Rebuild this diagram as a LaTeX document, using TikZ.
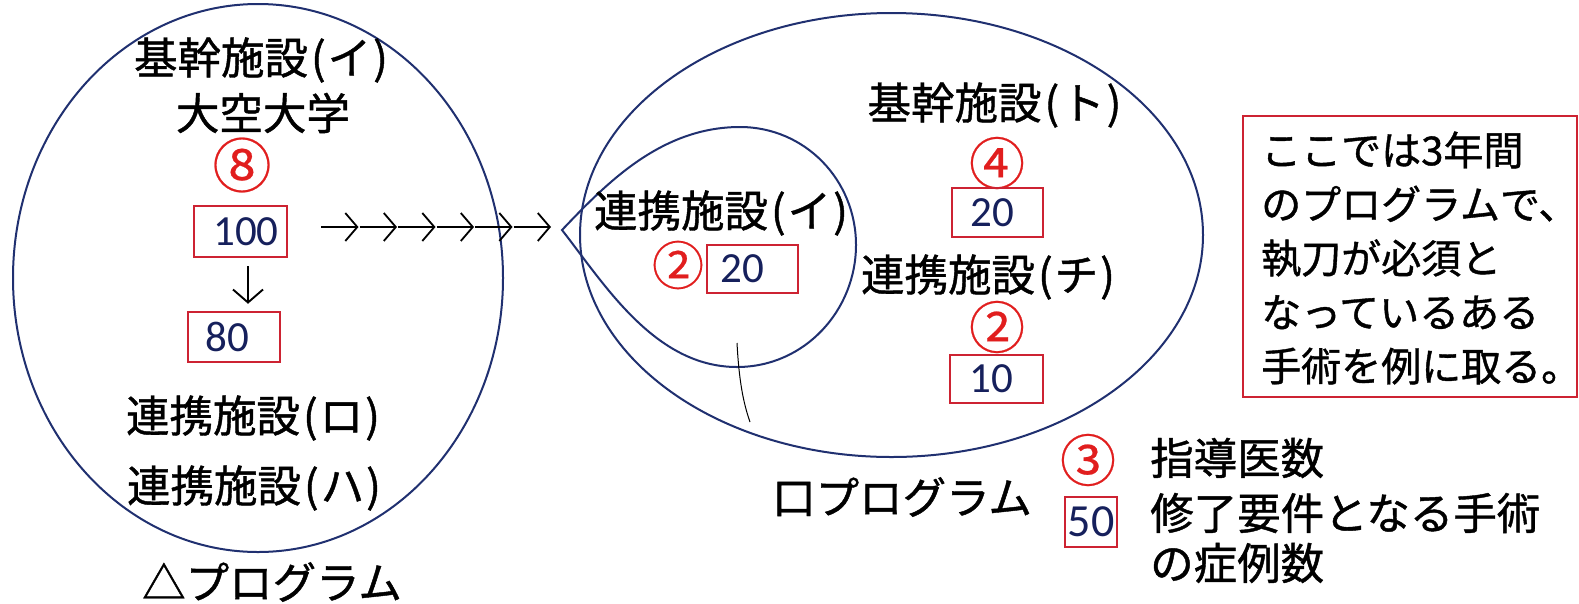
\documentclass[tikz,border=0pt]{standalone}
\usepackage{fontspec}
\setmainfont{Noto Sans CJK JP}[FakeBold=1]
\newfontfamily\numfont{Carlito}
\newfontfamily\circfont{Noto Sans CJK JP}[FakeBold=0.4]
\usetikzlibrary{arrows.meta}
\definecolor{lblue}{RGB}{32,48,112}
\definecolor{bred}{RGB}{205,35,50}
\definecolor{cred}{RGB}{225,30,30}
\definecolor{navy}{RGB}{22,32,92}
\begin{document}
\begin{tikzpicture}[x=1pt,y=-1pt,
  lbl/.style={inner sep=0pt, font=\fontsize{43.5}{50}\selectfont},
  circ/.style={inner sep=0pt, text=cred, font=\circfont\fontsize{56}{56}\selectfont},
  numbox/.style={draw=bred, line width=2.5pt, inner sep=0pt, text=navy,
    font=\numfont\fontsize{43}{50}\selectfont, minimum width=93pt, minimum height=50pt},
  ring/.style={draw=lblue, line width=2pt},
  arr/.style={line width=1.9pt, -{Straight Barb[length=13pt,width=30pt,line width=1.9pt]}},
  rowarr/.style={line width=1.8pt, -{Straight Barb[length=12pt,width=28pt,line width=1.8pt]}},
]
\useasboundingbox (0,0) rectangle (1579,603);
\fill[white] (0,0) rectangle (1579,603);

% left program
\draw[ring] (258,278) ellipse [x radius=245, y radius=274];
\node[lbl] (kikanI) at (261,60) {基幹施設\kern3pt(\kern2pt イ\kern2pt)};
\node[lbl] (univ) at (263,113) {大空大学};
\node[circ, font=\circfont\fontsize{59}{59}\selectfont] (c8) at (242,165) {⑧};
\node[numbox, minimum width=93pt, minimum height=51pt] (b100) at (240.5,231.5) {\hspace*{11pt}100};
\node[numbox, minimum width=92pt] (b80) at (234,337) {80\hspace*{14pt}};
\draw[arr, shorten <=8pt, shorten >=7pt] ([xshift=7.5pt]b100.south) -- ([xshift=14pt]b80.north);
\node[lbl] (renRo) at (253,418) {連携施設\kern3pt(\kern2pt ロ\kern2pt)};
\node[lbl] (renHa) at (254,488) {連携施設\kern3pt(\kern2pt ハ\kern2pt)};
\node[lbl] (progA) at (272,582) {△プログラム};

% arrows row
\foreach \i in {0,...,6} { \coordinate (a\i) at (321+38.5*\i,227); }
\foreach \i [count=\j] in {0,...,5} { \draw[rowarr, shorten >=1pt] (a\i) -- (a\j); }

% right program
\draw[ring] (891.5,235) ellipse [x radius=311.5, y radius=222];
\draw[ring] (562,230) .. controls (605,185) and (660,127) .. (740,127)
  .. controls (805,127) and (856,180) .. (856,245)
  .. controls (856,310) and (805,367) .. (737,367)
  .. controls (655,367) and (605,285) .. (562,230) -- cycle;
\draw[black, line width=1pt] (737,343) .. controls (739,380) and (743,402) .. (750,422);

\node[lbl] (renI) at (721,213) {連携施設\kern3pt(\kern2pt イ\kern2pt)};
\node[circ, font=\circfont\fontsize{52}{52}\selectfont] (c2a) at (678,265) {②};
\node[numbox, minimum width=91pt, minimum height=48pt] (b20a) at (752.5,269) {20\hspace*{21pt}};

\node[lbl] (kikanTo) at (994.5,105) {基幹施設\kern3pt(\kern2pt ト\kern2pt)};
\node[circ] (c4) at (997,163) {④};
\node[numbox, minimum width=91pt, minimum height=49pt] (b20b) at (997.5,212.5) {20\hspace*{11pt}};
\node[lbl] (renChi) at (988,277) {連携施設\kern3pt(\kern2pt チ\kern2pt)};
\node[circ] (c2b) at (997,327) {②};
\node[numbox, minimum width=93pt, minimum height=48pt] (b10) at (996.5,379) {10\hspace*{11pt}};
\node[lbl] (progB) at (902,497) {口プログラム};

% note box
\node[draw=bred, line width=2.2pt, minimum width=334pt, minimum height=281pt, inner sep=0pt] (note) at (1410,256.5) {};
\node[inner sep=0pt, anchor=west, align=left, font=\fontsize{40}{54}\selectfont] (notetext) at (1261,258)
  {ここでは3年間\\のプログラムで、\\執刀が必須と\\なっているある\\手術を例に取る。};

% legend
\node[circ] (c3) at (1088,460) {③};
\node[numbox, minimum width=52pt, minimum height=50pt, font=\numfont\fontsize{46}{50}\selectfont] (b50) at (1091,522) {50};
\node[lbl, anchor=west] (leg1) at (1150,458) {指導医数};
\node[lbl, anchor=west] (leg2) at (1150,513) {修了要件となる手術};
\node[lbl, anchor=west] (leg3) at (1150,563) {の症例数};
\end{tikzpicture}
\end{document}
